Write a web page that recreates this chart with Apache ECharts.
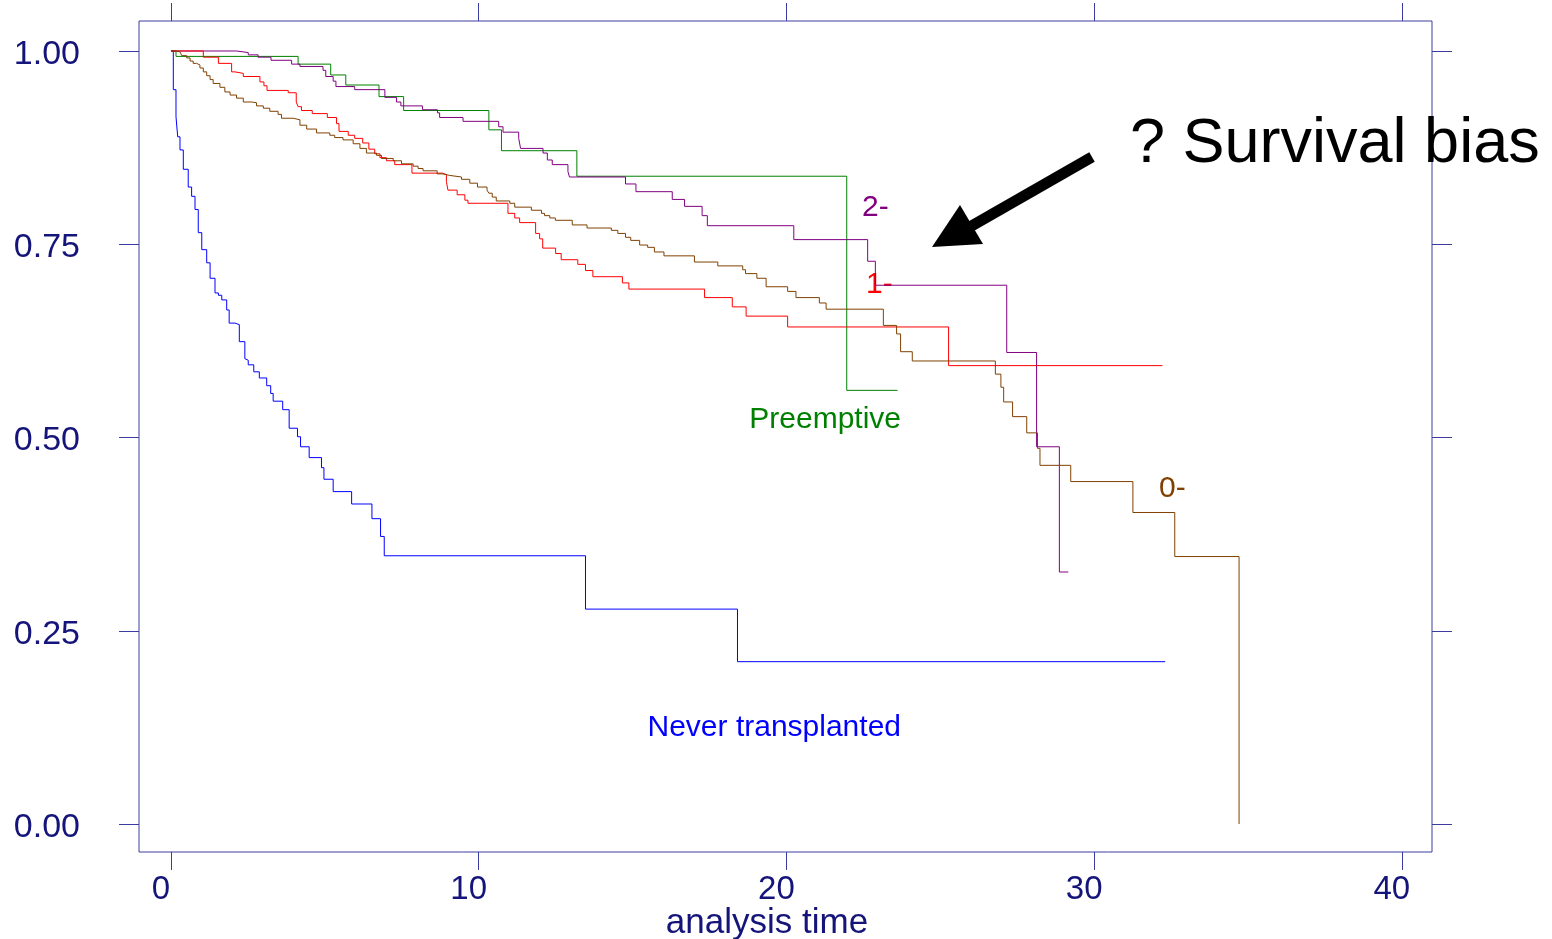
<!DOCTYPE html>
<html>
<head>
<meta charset="utf-8">
<script src="https://cdn.jsdelivr.net/npm/echarts@6/dist/echarts.min.js"></script>
<style>
  html, body { margin: 0; padding: 0; background: #ffffff; }
  #chart { width: 1552px; height: 939px; }
</style>
</head>
<body>
<div id="chart"></div>
<script>
// ---- Data (Kaplan-Meier step curves: [analysis time, survival]) ----
const xTicks = [0, 10, 20, 30, 40];
const yTicks = [0, 0.25, 0.5, 0.75, 1.0];

const neverTransplanted = [
  [0, 1.0], [0.075, 0.950], [0.162, 0.915], [0.218, 0.889], [0.292, 0.872],
  [0.40, 0.847], [0.56, 0.824], [0.67, 0.812], [0.78, 0.795], [0.886, 0.765],
  [1.0, 0.743], [1.16, 0.726], [1.27, 0.706], [1.43, 0.687], [1.54, 0.684],
  [1.65, 0.678], [1.81, 0.665], [1.89, 0.648], [2.08, 0.646], [2.22, 0.624],
  [2.40, 0.602], [2.46, 0.600], [2.51, 0.594], [2.69, 0.585], [2.87, 0.577],
  [3.11, 0.567], [3.24, 0.557], [3.32, 0.547], [3.63, 0.536], [3.84, 0.512],
  [4.11, 0.501], [4.21, 0.488], [4.49, 0.474], [4.89, 0.461], [4.97, 0.446],
  [5.27, 0.430], [5.87, 0.414], [6.53, 0.395], [6.81, 0.372], [6.93, 0.347],
  [13.47, 0.278], [18.41, 0.210], [32.31, 0.210]
];

const preemptive = [
  [0, 1.0], [0.162, 0.993], [4.13, 0.983], [5.19, 0.969], [5.68, 0.956],
  [6.76, 0.941], [7.56, 0.923], [10.33, 0.898], [10.74, 0.871], [13.19, 0.838],
  [21.96, 0.561], [23.61, 0.561]
];

const group2 = [
  [0, 1.0], [2.13, 0.998], [2.51, 0.995], [2.83, 0.992], [3.25, 0.988],
  [3.92, 0.983], [4.19, 0.980], [4.94, 0.975], [5.03, 0.967], [5.27, 0.961],
  [5.36, 0.954], [5.97, 0.950], [6.95, 0.940], [7.33, 0.934], [7.47, 0.929],
  [8.17, 0.924], [8.66, 0.920], [8.73, 0.914], [9.49, 0.909], [10.65, 0.902],
  [10.79, 0.895], [11.30, 0.887], [11.36, 0.874], [12.09, 0.868], [12.23, 0.859],
  [12.39, 0.853], [12.90, 0.844], [12.95, 0.837], [14.77, 0.828], [15.11, 0.818],
  [16.29, 0.808], [16.69, 0.799], [17.26, 0.787], [17.43, 0.774], [20.24, 0.756],
  [22.64, 0.728], [22.89, 0.697], [27.16, 0.610], [28.13, 0.488], [28.87, 0.326],
  [29.16, 0.326]
];

const group1 = [
  [0, 1.0], [1.05, 0.992], [1.54, 0.984], [1.97, 0.973], [2.08, 0.971],
  [2.35, 0.967], [2.89, 0.960], [3.02, 0.955], [3.12, 0.949], [3.81, 0.946],
  [4.07, 0.934], [4.13, 0.928], [4.24, 0.923], [4.59, 0.919], [5.08, 0.914],
  [5.38, 0.906], [5.46, 0.896], [5.76, 0.891], [5.97, 0.887], [6.23, 0.881],
  [6.43, 0.873], [6.62, 0.867], [6.79, 0.862], [7.00, 0.858], [7.27, 0.853],
  [7.83, 0.842], [8.82, 0.840], [8.95, 0.831], [9.00, 0.820], [9.30, 0.814],
  [9.55, 0.807], [9.65, 0.803], [10.95, 0.790], [11.17, 0.784], [11.33, 0.778],
  [11.85, 0.764], [11.98, 0.757], [12.08, 0.745], [12.50, 0.738], [12.68, 0.730],
  [13.22, 0.724], [13.47, 0.716], [13.71, 0.708], [14.67, 0.700], [14.88, 0.692],
  [17.34, 0.681], [18.24, 0.669], [18.69, 0.657], [20.04, 0.643], [25.27, 0.593],
  [32.22, 0.593]
];

const group0 = [
  [0, 1.0], [0.19, 0.999], [0.29, 0.997], [0.35, 0.994], [0.51, 0.991],
  [0.62, 0.987], [0.72, 0.984], [0.83, 0.982], [0.94, 0.978], [1.05, 0.973],
  [1.16, 0.968], [1.27, 0.963], [1.37, 0.958], [1.59, 0.953], [1.75, 0.947],
  [1.92, 0.943], [2.13, 0.939], [2.35, 0.934], [2.62, 0.933], [2.78, 0.929],
  [3.00, 0.926], [3.21, 0.922], [3.48, 0.918], [3.59, 0.913], [3.97, 0.911],
  [4.19, 0.904], [4.41, 0.899], [4.73, 0.894], [5.16, 0.891], [5.32, 0.888],
  [5.59, 0.885], [5.92, 0.880], [6.14, 0.874], [6.35, 0.868], [6.68, 0.865],
  [6.84, 0.861], [7.22, 0.858], [7.49, 0.854], [7.87, 0.851], [8.03, 0.848],
  [8.19, 0.845], [8.65, 0.841], [8.84, 0.839], [9.06, 0.837], [9.44, 0.834],
  [9.71, 0.829], [9.96, 0.824], [10.27, 0.820], [10.33, 0.816], [10.44, 0.811],
  [10.57, 0.806], [11.01, 0.803], [11.17, 0.798], [11.71, 0.794], [12.04, 0.790],
  [12.14, 0.787], [12.31, 0.784], [12.49, 0.781], [13.04, 0.775], [13.52, 0.771],
  [14.31, 0.768], [14.52, 0.764], [14.77, 0.759], [14.94, 0.755], [15.23, 0.749],
  [15.49, 0.746], [15.71, 0.740], [16.02, 0.735], [17.01, 0.727], [17.77, 0.722],
  [18.58, 0.717], [18.67, 0.712], [19.04, 0.706], [19.34, 0.695], [20.04, 0.689],
  [20.31, 0.681], [21.07, 0.674], [21.29, 0.666], [23.15, 0.645], [23.58, 0.634],
  [23.71, 0.611], [24.09, 0.599], [26.79, 0.582], [26.97, 0.565], [27.06, 0.546],
  [27.35, 0.527], [27.81, 0.506], [28.16, 0.486], [28.24, 0.464], [29.24, 0.443],
  [31.26, 0.403], [32.62, 0.346], [34.71, 0.0]
];

const seriesNames = ['Never transplanted', 'Preemptive', '2-', '1-', '0-'];
const seriesColors = ['#0000ff', '#008000', '#800080', '#ff0000', '#804000'];
const annotationText = '? Survival bias';
const xAxisTitle = 'analysis time';

// ---- Chart ----
const chart = echarts.init(document.getElementById('chart'), null, { renderer: 'canvas' });
const AXIS_COLOR = '#3c3ca0';
const LABEL_COLOR = '#14147a';
const FONT = 'Liberation Sans, Arial, sans-serif';

const dataSets = [neverTransplanted, preemptive, group2, group1, group0];

const option = {
  backgroundColor: '#ffffff',
  animation: false,
  grid: {
    left: 139, right: 120, top: 21, bottom: 87,
    show: true, borderColor: AXIS_COLOR, borderWidth: 1, backgroundColor: 'transparent'
  },
  xAxis: [
    {
      type: 'value', min: -1.04, max: 40.98, position: 'bottom',
      axisLine: { show: false, onZero: false },
      splitLine: { show: false },
      axisTick: { show: true, length: 18, customValues: xTicks, lineStyle: { color: AXIS_COLOR, width: 1 } },
      axisLabel: {
        show: true, customValues: xTicks, margin: 21, color: LABEL_COLOR,
        fontFamily: FONT, fontSize: 33, padding: [0, 20, 0, 0]
      }
    },
    {
      type: 'value', min: -1.04, max: 40.98, position: 'top',
      axisLine: { show: false, onZero: false },
      splitLine: { show: false },
      axisTick: { show: true, length: 18, customValues: xTicks, lineStyle: { color: AXIS_COLOR, width: 1 } },
      axisLabel: { show: false }
    }
  ],
  yAxis: [
    {
      type: 'value', min: -0.0362, max: 1.0388, position: 'left',
      axisLine: { show: false, onZero: false },
      splitLine: { show: false },
      axisTick: { show: true, length: 20, customValues: yTicks, lineStyle: { color: AXIS_COLOR, width: 1 } },
      axisLabel: {
        show: true, customValues: yTicks, margin: 59, color: LABEL_COLOR,
        fontFamily: FONT, fontSize: 34,
        formatter: v => '{a|' + v.toFixed(2) + '}',
        rich: { a: { fontFamily: FONT, fontSize: 34, color: LABEL_COLOR, padding: [7, 0, 0, 0] } }
      }
    },
    {
      type: 'value', min: -0.0362, max: 1.0388, position: 'right',
      axisLine: { show: false, onZero: false },
      splitLine: { show: false },
      axisTick: { show: true, length: 20, customValues: yTicks, lineStyle: { color: AXIS_COLOR, width: 1 } },
      axisLabel: { show: false }
    }
  ],
  series: dataSets.map((d, i) => ({
    name: seriesNames[i],
    type: 'line',
    xAxisIndex: 0, yAxisIndex: 0,
    step: 'end',
    data: d,
    showSymbol: false,
    symbol: 'none',
    lineStyle: { color: seriesColors[i], width: 1 },
    z: 3
  })),
  graphic: [
    { type: 'text', x: 767, y: 923, style: { text: xAxisTitle, fill: LABEL_COLOR, font: '35px ' + FONT, textAlign: 'center', textVerticalAlign: 'middle' } },
    { type: 'text', x: 901, y: 435, style: { text: seriesNames[1], fill: seriesColors[1], font: '30px ' + FONT, textAlign: 'right', textVerticalAlign: 'bottom' } },
    { type: 'text', x: 901, y: 743, style: { text: seriesNames[0], fill: seriesColors[0], font: '30px ' + FONT, textAlign: 'right', textVerticalAlign: 'bottom' } },
    { type: 'text', x: 862, y: 223, style: { text: seriesNames[2], fill: seriesColors[2], font: '30px ' + FONT, textAlign: 'left', textVerticalAlign: 'bottom' } },
    { type: 'text', x: 866, y: 300, style: { text: seriesNames[3], fill: seriesColors[3], font: '30px ' + FONT, textAlign: 'left', textVerticalAlign: 'bottom' } },
    { type: 'text', x: 1159, y: 504, style: { text: seriesNames[4], fill: seriesColors[4], font: '30px ' + FONT, textAlign: 'left', textVerticalAlign: 'bottom' } },
    { type: 'text', x: 1130, y: 145, style: { text: annotationText, fill: '#000000', font: '63px ' + FONT, textAlign: 'left', textVerticalAlign: 'middle' } },
    { type: 'line', shape: { x1: 1092, y1: 157, x2: 968, y2: 228 }, style: { stroke: '#000000', lineWidth: 11, lineCap: 'butt' } },
    { type: 'polygon', shape: { points: [[932, 247], [960, 205], [983, 244]] }, style: { fill: '#000000' } }
  ]
};
chart.setOption(option);
</script>
</body>
</html>
